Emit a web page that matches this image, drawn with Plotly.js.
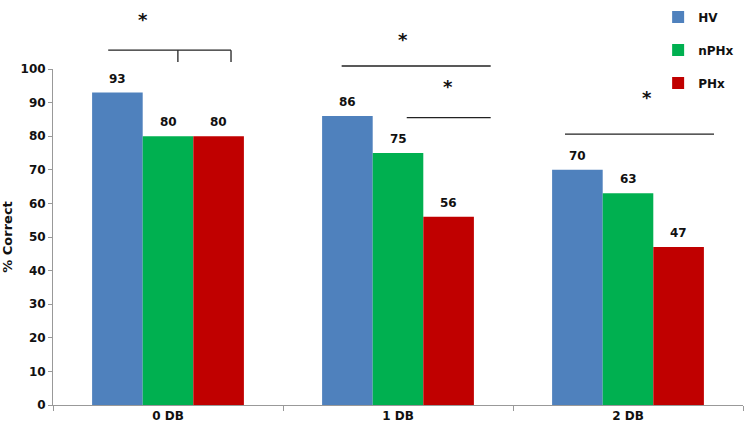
<!DOCTYPE html>
<html>
<head>
<meta charset="utf-8">
<script src="https://cdn.plot.ly/plotly-3.0.1.min.js"></script>
<style>
  html, body { margin: 0; padding: 0; background: #fff; }
  #chart { width: 746px; height: 433px; }
</style>
</head>
<body>
<div id="chart"></div>
<script>
// data
const conditions = ["0 DB", "1 DB", "2 DB"];
const groups = ["HV", "nPHx", "PHx"];
const hv = [93, 86, 70];
const npHx = [80, 75, 63];
const pHx = [80, 56, 47];
const colors = ["#4f81bd", "#00b050", "#c00000"];

const font = "DejaVu Sans, Verdana, sans-serif";
const bargap = 0.34;
const barW = (1 - bargap) / groups.length;

const series = [hv, npHx, pHx];
const traces = series.map((vals, i) => ({
  x: conditions,
  y: vals,
  type: "bar",
  name: groups[i],
  legendgroup: groups[i],
  marker: { color: colors[i] }
}));

// value labels sit a bit higher above the bars than plotly's outside text
const valueLabels = [];
series.forEach((vals, i) => {
  vals.forEach((v, j) => {
    valueLabels.push({
      text: String(v), xref: "x", yref: "y",
      x: j + (i - 1) * barW, y: v,
      showarrow: false, yanchor: "bottom", yshift: 5,
      font: { family: font, size: 12, color: "#111", weight: "bold" }
    });
  });
});

// significance lines (x in category units, y in paper units)
const lineStyle = { color: "#222", width: 1.3 };
const seg = (x0, x1, y0, y1) => ({
  type: "line", xref: "x", yref: "paper",
  x0: x0, x1: x1, y0: y0, y1: y1, line: lineStyle
});
const shapes = [
  // 0 DB bracket
  seg(-0.26, 0.274, 1.056, 1.056),
  seg(0.043, 0.043, 1.056, 1.021),
  seg(0.274, 0.274, 1.056, 1.021),
  // 1 DB
  seg(0.755, 1.403, 1.009, 1.009),
  seg(1.038, 1.403, 0.855, 0.855),
  // 2 DB
  seg(1.726, 2.374, 0.806, 0.806)
];

const star = (x, y) => ({
  text: "*", xref: "x", yref: "paper", x: x, y: y,
  showarrow: false, yanchor: "middle", yshift: 2,
  font: { family: font, size: 18, color: "#111", weight: "bold" }
});
const annotations = valueLabels.concat([
  star(-0.11, 1.142),
  star(1.02, 1.083),
  star(1.216, 0.941),
  star(2.081, 0.908)
]);

const layout = {
  width: 746,
  height: 433,
  margin: { l: 53, r: 3, t: 67, b: 28 },
  paper_bgcolor: "#fff",
  plot_bgcolor: "#fff",
  font: { family: font, size: 12, color: "#111" },
  barmode: "group",
  bargap: bargap,
  bargroupgap: 0,
  showlegend: true,
  legend: {
    x: 0.877, y: 1.198, xanchor: "left", yanchor: "top",
    tracegroupgap: 14,
    font: { family: font, size: 12, color: "#111", weight: "bold" }
  },
  xaxis: {
    type: "category",
    range: [-0.5, 2.5],
    showline: true,
    linecolor: "#999",
    linewidth: 1,
    ticks: "outside",
    tickson: "boundaries",
    ticklen: 5,
    tickcolor: "#999",
    showgrid: false,
    tickfont: { family: font, size: 12, color: "#111", weight: "bold" }
  },
  yaxis: {
    range: [0, 100],
    dtick: 10,
    showline: true,
    linecolor: "#999",
    linewidth: 1,
    ticks: "outside",
    ticklen: 4,
    tickcolor: "#999",
    showgrid: false,
    zeroline: false,
    automargin: false,
    tickfont: { family: font, size: 12, color: "#111", weight: "bold" },
    title: {
      text: "% Correct",
      standoff: 8,
      font: { family: font, size: 13, color: "#111", weight: "bold" }
    }
  },
  shapes: shapes,
  annotations: annotations
};

Plotly.newPlot("chart", traces, layout, { displayModeBar: false, staticPlot: true });
</script>
</body>
</html>
